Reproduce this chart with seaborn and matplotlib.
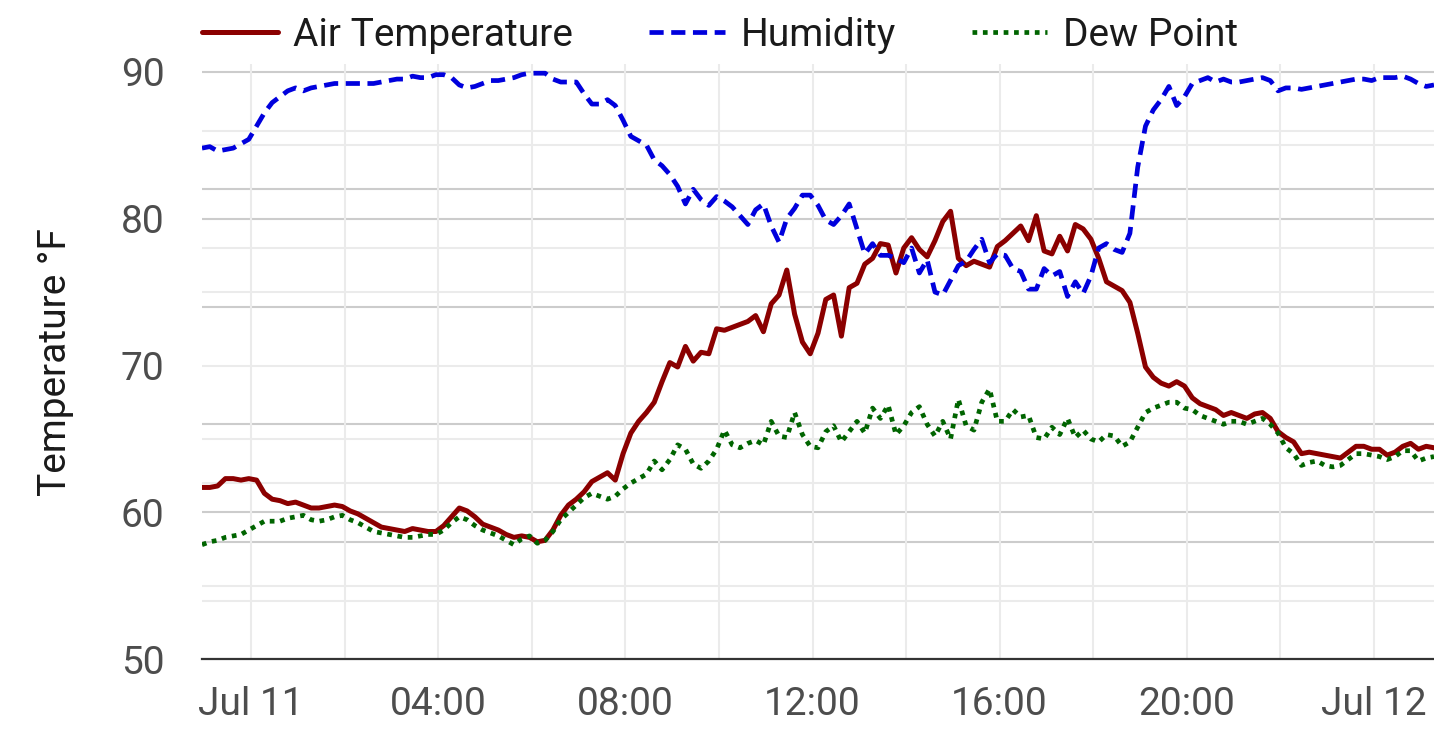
import numpy as np
import pandas as pd
import seaborn as sns
import matplotlib
matplotlib.use("Agg")
import matplotlib.pyplot as plt
import matplotlib.dates as mdates
from matplotlib.ticker import FuncFormatter

# readings every 10 minutes, starting Jul 10 22:57
start_time = "2023-07-10 22:57"

air_temp = [
    61.7, 61.7, 61.8, 62.3, 62.3, 62.2, 62.3, 62.2, 61.3, 60.9,
    60.8, 60.6, 60.7, 60.5, 60.3, 60.3, 60.4, 60.5, 60.4, 60.1,
    59.9, 59.6, 59.3, 59.0, 58.9, 58.8, 58.7, 58.9, 58.8, 58.7,
    58.7, 59.1, 59.7, 60.3, 60.1, 59.7, 59.2, 59.0, 58.8, 58.5,
    58.3, 58.4, 58.3, 58.0, 58.1, 58.8, 59.8, 60.5, 60.9, 61.4,
    62.1, 62.4, 62.7, 62.2, 64.0, 65.4, 66.2, 66.8, 67.5, 68.9,
    70.2, 69.9, 71.3, 70.3, 70.9, 70.8, 72.5, 72.4, 72.6, 72.8,
    73.0, 73.4, 72.3, 74.2, 74.8, 76.5, 73.5, 71.6, 70.8, 72.2,
    74.5, 74.8, 72.0, 75.3, 75.6, 76.9, 77.3, 78.3, 78.2, 76.3,
    78.0, 78.7, 77.9, 77.4, 78.5, 79.8, 80.5, 77.3, 76.8, 77.1,
    76.9, 76.7, 78.1, 78.5, 79.0, 79.5, 78.5, 80.2, 77.8, 77.6,
    78.8, 77.8, 79.6, 79.3, 78.6, 77.3, 75.7, 75.4, 75.1, 74.3,
    72.2, 69.9, 69.2, 68.8, 68.6, 68.9, 68.6, 67.8, 67.4, 67.2,
    67.0, 66.6, 66.8, 66.6, 66.4, 66.7, 66.8, 66.4, 65.5, 65.1,
    64.8, 64.0, 64.1, 64.0, 63.9, 63.8, 63.7, 64.1, 64.5, 64.5,
    64.3, 64.3, 63.9, 64.1, 64.5, 64.7, 64.3, 64.5, 64.4,
]

humidity = [
    84.8, 84.9, 84.6, 84.7, 84.8, 85.1, 85.4, 86.3, 87.2, 87.9,
    88.3, 88.7, 88.9, 88.7, 88.9, 89.0, 89.1, 89.2, 89.2, 89.2,
    89.2, 89.2, 89.2, 89.3, 89.4, 89.5, 89.5, 89.7, 89.6, 89.6,
    89.8, 89.8, 89.6, 89.1, 88.9, 89.0, 89.2, 89.4, 89.4, 89.5,
    89.6, 89.8, 89.9, 89.9, 89.9, 89.5, 89.3, 89.3, 89.3, 88.5,
    87.8, 87.8, 88.1, 87.7, 86.7, 85.6, 85.3, 85.0, 84.0, 83.6,
    83.0, 82.2, 81.0, 82.0, 81.3, 80.9, 81.5, 81.2, 80.8, 80.2,
    79.6, 80.6, 81.0, 79.5, 78.4, 80.0, 80.7, 81.6, 81.6, 80.9,
    79.9, 79.6, 80.2, 81.0, 79.3, 77.6, 78.3, 77.5, 77.5, 77.3,
    77.0, 78.0, 76.3, 77.2, 75.0, 74.8, 75.8, 76.8, 77.1, 77.9,
    78.6, 77.0, 77.6, 77.5, 76.6, 76.4, 75.2, 75.2, 76.6, 76.1,
    76.4, 74.7, 75.7, 74.9, 76.1, 78.0, 78.3, 77.9, 77.7, 79.0,
    83.5, 86.3, 87.4, 88.1, 89.0, 87.7, 88.3, 89.2, 89.4, 89.6,
    89.3, 89.5, 89.3, 89.3, 89.4, 89.5, 89.6, 89.4, 88.7, 88.9,
    88.9, 88.8, 88.9, 89.0, 89.1, 89.2, 89.3, 89.4, 89.5, 89.5,
    89.4, 89.6, 89.6, 89.6, 89.7, 89.5, 89.2, 89.0, 89.1,
]

dew_point = [
    57.8, 58.0, 58.1, 58.3, 58.4, 58.5, 58.8, 59.1, 59.4, 59.4,
    59.4, 59.6, 59.7, 59.8, 59.5, 59.4, 59.5, 59.7, 59.8, 59.5,
    59.3, 59.0, 58.7, 58.6, 58.5, 58.4, 58.3, 58.3, 58.4, 58.5,
    58.5, 58.8, 59.3, 59.7, 59.5, 59.1, 58.8, 58.6, 58.4, 58.1,
    57.8, 58.2, 58.4, 57.9, 58.1, 58.7, 59.5, 60.0, 60.5, 61.0,
    61.3, 61.1, 60.9, 61.1, 61.6, 62.0, 62.3, 62.6, 63.5, 62.9,
    63.6, 64.6, 64.3, 63.3, 63.0, 63.5, 64.3, 65.6, 64.6, 64.4,
    64.7, 64.9, 64.6, 66.2, 65.2, 65.1, 66.8, 65.3, 64.5, 64.4,
    65.5, 65.9, 64.8, 65.5, 66.2, 65.4, 67.1, 66.4, 67.3, 65.3,
    65.9, 66.8, 67.2, 66.0, 65.2, 66.2, 65.0, 67.7, 65.9, 65.6,
    67.5, 68.4, 66.2, 66.2, 67.0, 66.5, 66.6, 65.1, 65.0, 65.8,
    65.3, 66.4, 65.1, 65.6, 65.0, 64.8, 65.3, 65.2, 64.5, 64.8,
    65.8, 66.8, 67.1, 67.3, 67.5, 67.5, 67.1, 67.0, 66.6, 66.4,
    66.2, 66.0, 66.2, 66.2, 66.0, 66.2, 66.4, 66.0, 65.4, 64.4,
    64.0, 63.2, 63.4, 63.5, 63.2, 63.1, 63.2, 63.6, 64.0, 64.0,
    63.9, 63.8, 63.6, 63.8, 64.2, 64.2, 63.5, 63.7, 63.8,
]

times = pd.date_range(start_time, periods=len(air_temp), freq="10min")
df = pd.DataFrame({"time": times, "air": air_temp, "hum": humidity, "dew": dew_point})

y_ticks = [50, 60, 70, 80, 90]
# horizontal guide lines as drawn in the original
dark_lines = [58, 60, 66, 74, 80, 82, 90]
light_lines = [54, 55, 62, 65, 70, 75, 78, 85, 86]

sns.set_theme(style="white")
plt.rcParams["font.family"] = ["Roboto", "DejaVu Sans"]

fig = plt.figure(figsize=(14.34, 7.47), dpi=100)
ax = fig.add_axes([202 / 1434, 1 - 659.3 / 747, 1 - 202 / 1434, (659.3 - 64.4) / 747])

for v in dark_lines:
    ax.axhline(v, color="#cccccc", lw=1.5, zorder=0)
for v in light_lines:
    ax.axhline(v, color="#ebebeb", lw=1.5, zorder=0)

sns.lineplot(data=df, x="time", y="air", ax=ax, color="#8b0000", lw=3.6,
             label="Air Temperature")
sns.lineplot(data=df, x="time", y="hum", ax=ax, color="#0000dd", lw=3.4,
             linestyle=(0, (3.0, 1.6)), label="Humidity")
sns.lineplot(data=df, x="time", y="dew", ax=ax, color="#006400", lw=3.4,
             linestyle=(0, (1, 1.2)), label="Dew Point")

ax.set_ylim(50, 90.5)
ax.set_xlim(times[0], times[-1])
ax.set_yticks(y_ticks)

ax.xaxis.set_major_locator(mdates.HourLocator(byhour=[0, 4, 8, 12, 16, 20]))
ax.xaxis.set_minor_locator(mdates.HourLocator(byhour=range(0, 24, 2)))


def fmt_time(x, pos):
    d = mdates.num2date(x)
    if d.hour == 0:
        return d.strftime("%b ") + str(d.day)
    return d.strftime("%H:%M")


ax.xaxis.set_major_formatter(FuncFormatter(fmt_time))
ax.grid(True, axis="x", which="both", color="#ebebeb", lw=1.5, zorder=0)
ax.set_axisbelow(True)

for s in ["top", "right", "left"]:
    ax.spines[s].set_visible(False)
ax.spines["bottom"].set_color("#333333")
ax.spines["bottom"].set_linewidth(1.6)

ax.tick_params(axis="y", length=0, pad=27, labelsize=28, labelcolor="#4d4d4d")
ax.tick_params(axis="x", which="both", length=0, pad=19, labelsize=28, labelcolor="#4d4d4d")
ax.set_xlabel("")
ax.set_ylabel("Temperature °F", fontsize=28, color="#1a1a1a", labelpad=34)

ax.get_legend().remove()
handles, labels = ax.get_legend_handles_labels()
fig.legend(handles, labels, loc="center left", bbox_to_anchor=(202 / 1434, 1 - 35 / 747),
           ncol=3, frameon=False, fontsize=28, handlelength=1.95, handletextpad=0.4,
           columnspacing=1.95, borderpad=0, borderaxespad=0, labelcolor="#1a1a1a")

fig.savefig("out.png", dpi=100)
